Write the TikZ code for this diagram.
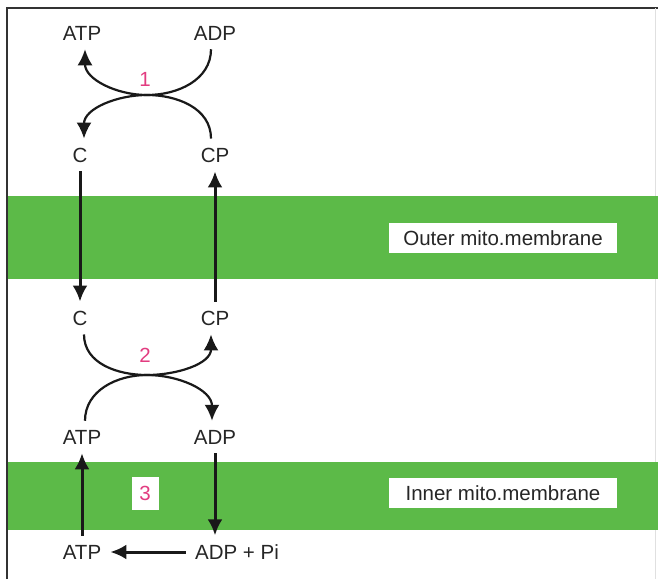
\documentclass[tikz,border=0pt]{standalone}
\usepackage{fontspec}
\setmainfont{Liberation Sans}
\usetikzlibrary{arrows.meta}
\definecolor{membgreen}{RGB}{92,186,72}
\definecolor{steppink}{RGB}{226,60,128}
\begin{document}
\begin{tikzpicture}[x=1pt, y=-1pt,
    mol/.style={inner sep=9pt, text=black!85, font=\fontsize{20.5}{24}\selectfont},
    stepnum/.style={text=steppink, font=\fontsize{20.5}{24}\selectfont},
    tag/.style={fill=white, inner sep=0pt, text=black!85, font=\fontsize{20.5}{24}\selectfont},
    flow/.style={line width=3pt, black!90, -{Latex[length=16pt,width=15pt]}},
    exch/.style={line width=2.2pt, black!90, -{Latex[length=16pt,width=15pt]}}]

    \useasboundingbox (0,0) rectangle (658,579);

    % membranes and frame
    \fill[membgreen] (8,196) rectangle (658,279);
    \fill[membgreen] (8,462) rectangle (658,530);
    \draw[line width=1.5pt, black!80] (7,579) -- (7,8) -- (658,8);
    \draw[black!12] (655,8) -- (655,196) (655,279) -- (655,462) (655,530) -- (655,579);

    \node[tag, minimum width=228pt, minimum height=30pt] (outer) at (503,238) {Outer mito.membrane};
    \node[tag, minimum width=228pt, minimum height=30pt] (inner) at (503,493) {Inner mito.membrane};

    \node[mol] (atpa) at (82,33) {ATP};
    \node[mol] (adpa) at (215,33) {ADP};
    \node[mol] (ca) at (80,155) {C};
    \node[mol] (cpa) at (215,155) {CP};
    \node[mol] (cb) at (80,318) {C};
    \node[mol] (cpb) at (215,318) {CP};
    \node[mol] (atpb) at (82,437) {ATP};
    \node[mol] (adpb) at (215,437) {ADP};
    \node[mol] (atpc) at (82,552) {ATP};
    \node[mol] (adpc) at (237,552) {ADP + Pi};

    \node[stepnum] (s1) at (145,79) {1};
    \node[stepnum] (s2) at (145,355) {2};
    \node[stepnum, fill=white, minimum width=27pt, minimum height=33pt, inner sep=0pt] (s3) at (145,493) {3};

    \coordinate (k1) at (147,95);
    \coordinate (k2) at (147,375);

    % reaction 1
    \draw[exch] ([xshift=-4pt]adpa.south) to[out=-90, in=0] (k1) to[out=180, in=-90] ([xshift=3pt]atpa.south);
    \draw[exch] ([xshift=-4pt]cpa.north) to[out=90, in=0] (k1) to[out=180, in=90] ([xshift=4pt]ca.north);

    % through outer membrane
    \draw[flow] (ca) -- (cb);
    \draw[flow] (cpb) -- (cpa);

    % reaction 2
    \draw[exch] ([xshift=4pt]cb.south) to[out=-90, in=180] (k2) to[out=0, in=-90] ([xshift=-4pt]cpb.south);
    \draw[exch] ([xshift=3pt]atpb.north) to[out=90, in=180] (k2) to[out=0, in=90] ([xshift=-3pt]adpb.north);

    % through inner membrane
    \draw[flow] (atpc) -- (atpb);
    \draw[flow] (adpb) -- (adpb |- adpc.north);
    \draw[flow] (adpc) -- (atpc);
\end{tikzpicture}
\end{document}
